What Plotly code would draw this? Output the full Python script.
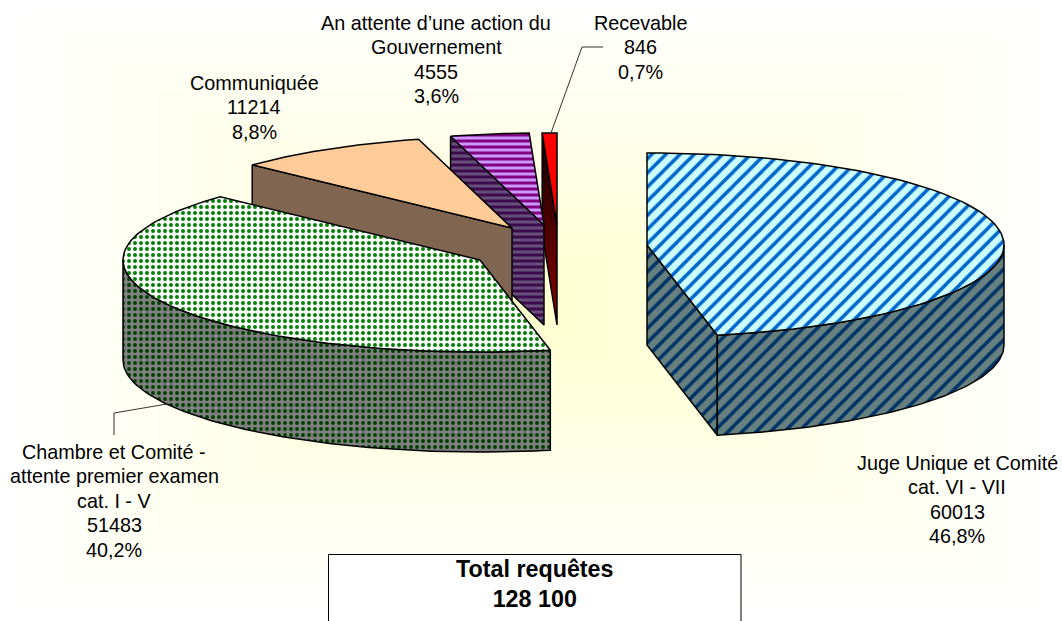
"""
Exploded 3D-look pie of pending applications, drawn as scatter polygons
"""
import numpy as np
import plotly.graph_objects as go

names = [["Juge Unique et Comité", "cat. VI - VII"],
         ["Chambre et Comité -", "attente premier examen", "cat. I - V"],
         ["Communiquée"],
         ["An attente d’une action du", "Gouvernement"],
         ["Recevable"]]
values = [60013, 51483, 11214, 4555, 846]
percents = ["46,8%", "40,2%", "8,8%", "3,6%", "0,7%"]
total_label = "Total requêtes<br>128 100"

# pie geometry in pixels
RX, RY, DEPTH = 357, 92, 100
centers = [(647, 245), (480, 260), (512, 228), (544, 225), (557, 225)]
# centre x and y of the first line of each label
label_pos = [(957, 463), (114, 452), (254, 83), (436, 23), (640, 23)]
LINE_GAP = 24.4

angles = np.cumsum([0] + values) / sum(values) * 360


def rim(cx, cy, a0, a1, n=80):
    t = np.radians(np.linspace(a0, a1, n))
    return cx + RX * np.sin(t), cy - RY * np.cos(t)


def add_poly(fig, x, y, **kw):
    fig.add_trace(go.Scatter(
        x=np.append(x, x[0]), y=np.append(y, y[0]),
        mode="lines", fill="toself",
        line=dict(color="black", width=1.5),
        hoverinfo="skip", showlegend=False, **kw
    ))


def add_wall(fig, i, a, **kw):
    # radial wall from the centre to the rim at angle a
    cx, cy = centers[i]
    rx, ry = rim(cx, cy, a, a, 1)
    add_poly(fig, np.array([rx[0], cx, cx, rx[0]]),
             np.array([ry[0], cy, cy + DEPTH, ry[0] + DEPTH]), **kw)


def add_side(fig, i, a0, a1, **kw):
    # outer curved side between two angles
    cx, cy = centers[i]
    rx, ry = rim(cx, cy, a0, a1)
    add_poly(fig, np.r_[rx, rx[::-1]], np.r_[ry, ry[::-1] + DEPTH], **kw)


def add_top(fig, i, **kw):
    cx, cy = centers[i]
    rx, ry = rim(cx, cy, angles[i], angles[i + 1])
    add_poly(fig, np.r_[cx, rx], np.r_[cy, ry], **kw)


def stripes(shape, fg, bg, size, solidity):
    return dict(fillpattern=dict(shape=shape, fgcolor=fg, bgcolor=bg,
                                 size=size, solidity=solidity, fillmode="replace"))


fig = go.Figure()

# red slice
add_wall(fig, 4, angles[4], fillgradient=dict(
    type="vertical", colorscale=[[0, "#8a0000"], [1, "#100000"]]))
add_top(fig, 4, fillcolor="#ff0000")

# purple slice
add_wall(fig, 3, angles[3], **stripes("-", "#3d0a4d", "#66507a", 6, 0.5))
add_top(fig, 3, **stripes("-", "#800080", "#cc99ff", 6, 0.5))

# orange slice
add_wall(fig, 2, angles[2], fillcolor="#806650")
add_top(fig, 2, fillcolor="#ffcc99")

# green slice
add_side(fig, 1, angles[1], 270, **stripes(".", "#004000", "#808080", 6, 0.34))
add_top(fig, 1, **stripes(".", "#008000", "#ffffff", 6, 0.34))

# blue slice
add_wall(fig, 0, angles[1], **stripes("/", "#003366", "#668080", 10, 0.35))
add_side(fig, 0, 90, angles[1], **stripes("/", "#003366", "#668080", 10, 0.35))
add_top(fig, 0, **stripes("/", "#0066cc", "#ccffff", 10, 0.35))

# leader lines
leader_x = [[603, 582, 551], [167, 114, 114]]
leader_y = [[47, 47, 133], [404, 413, 435]]
for lx, ly in zip(leader_x, leader_y):
    fig.add_trace(go.Scatter(x=lx, y=ly, mode="lines", hoverinfo="skip", showlegend=False,
                             line=dict(color="#333333", width=1)))

for name, val, pct, (x, y) in zip(names, values, percents, label_pos):
    for k, line in enumerate(name + [str(val), pct]):
        fig.add_annotation(x=x, y=y + k * LINE_GAP, text=line, showarrow=False,
                           font=dict(family="Liberation Sans", size=19.8, color="black"),
                           yanchor="middle", xanchor="center")

fig.add_annotation(x=535, y=584, text=f"<b>{total_label}</b>", showarrow=False,
                   font=dict(family="Liberation Sans", size=23.3, color="black"))

# background: rectangular gradient fading from pale yellow to white
shapes = []
steps = 24
for k in range(steps):
    f = 1 - k / steps
    blue = int(208 + (255 - 208) * f)
    shapes.append(dict(type="rect", xref="x", yref="y", layer="below", line_width=0,
                       x0=530 - 531 * f, x1=530 + 532 * f, y0=310 - 311 * f, y1=310 + 311 * f,
                       fillcolor=f"rgb(255,255,{blue})"))
shapes.append(dict(type="rect", xref="x", yref="y", layer="between", x0=328.5, x1=741, y0=554.5, y1=640,
                   fillcolor="white", line=dict(color="black", width=1)))

fig.update_layout(
    width=1062, height=621,
    margin=dict(l=0, r=0, t=0, b=0),
    paper_bgcolor="white", plot_bgcolor="white",
    showlegend=False, shapes=shapes,
    xaxis=dict(range=[0, 1062], visible=False, fixedrange=True),
    yaxis=dict(range=[621, 0], visible=False, fixedrange=True),
)

# the page's default body margin would push the chart off by 8px
fig.write_html("out.html", config=dict(displayModeBar=False),
               post_script="document.body.style.margin='0';document.body.style.overflow='hidden';")
